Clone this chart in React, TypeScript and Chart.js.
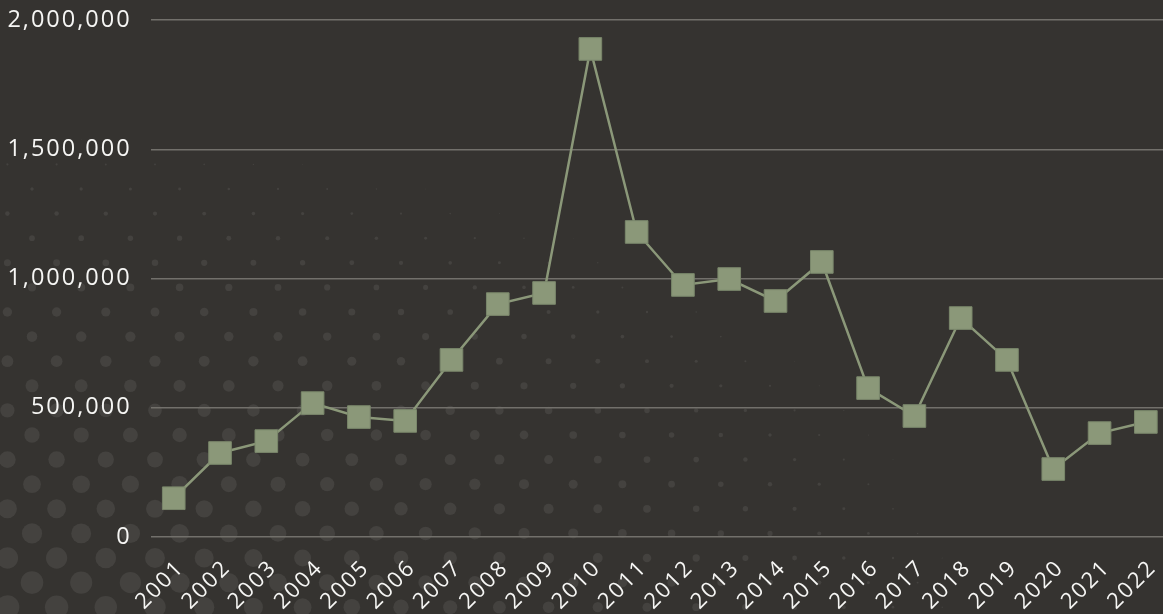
import React, { useEffect, useRef } from 'react';
import { Chart, registerables } from 'chart.js';

Chart.register(...registerables);

const years = ['2001', '2002', '2003', '2004', '2005', '2006', '2007', '2008', '2009', '2010', '2011', '2012', '2013', '2014', '2015', '2016', '2017', '2018', '2019', '2020', '2021', '2022'];
const values = [150000, 325000, 371000, 518000, 464000, 449000, 685000, 901000, 944000, 1888000, 1180000, 975000, 998000, 913000, 1064000, 576000, 468000, 847000, 685000, 263000, 402000, 445000];
const yTicks = [0, 500000, 1000000, 1500000, 2000000];

const BG = '#353330';
const SAGE = '#8b9879';
const TEXT = '#f6f6f4';
const GRID = '#72706b';
const FONT = "'Open Sans', 'Noto Sans', sans-serif";

const dotsPlugin = {
  id: 'dotsBackground',
  beforeUpdate(chart: any) {
    chart.ctx.letterSpacing = '2px';
  },
  beforeDraw(chart: any) {
    const ctx = chart.ctx;
    ctx.save();
    ctx.fillStyle = BG;
    ctx.fillRect(0, 0, chart.width, chart.height);
    ctx.fillStyle = 'rgba(255,255,255,0.075)';
    const dx = 49.2;
    const dy = 24.6;
    for (let row = -12; row < 30; row++) {
      const y = 189 + row * dy;
      if (y > chart.height + 20) break;
      const even = ((row % 2) + 2) % 2 === 0;
      const start = (even ? 32 : 7.4) - dx;
      for (let x = start; x < chart.width + dx; x += dx) {
        const d = Math.sqrt((x / 1000) ** 2 + ((650 - y) / 530) ** 2);
        const r = 13 * (1 - d);
        if (r > 0.4) {
          ctx.beginPath();
          ctx.arc(x, y, r, 0, Math.PI * 2);
          ctx.fill();
        }
      }
    }
    ctx.restore();
  },
};

export default function App() {
  const ref = useRef<HTMLCanvasElement | null>(null);

  useEffect(() => {
    if (!ref.current) return;
    const chart = new Chart(ref.current, {
      type: 'line',
      data: {
        labels: years,
        datasets: [
          {
            data: values,
            borderColor: SAGE,
            borderWidth: 2.5,
            backgroundColor: SAGE,
            pointStyle: 'rect',
            pointRadius: 16,
            pointHoverRadius: 16,
            pointBackgroundColor: SAGE,
            pointBorderColor: '#7a876b',
            pointBorderWidth: 1,
            tension: 0,
            clip: false,
          },
        ],
      },
      options: {
        responsive: false,
        animation: false,
        devicePixelRatio: 1,
        layout: { autoPadding: false, padding: { top: 20, left: 0, right: 0, bottom: 0 } },
        plugins: {
          legend: { display: false },
          tooltip: { enabled: false },
        },
        scales: {
          x: {
            type: 'category',
            offset: true,
            grid: { display: false, drawTicks: false },
            border: { display: false },
            ticks: {
              color: TEXT,
              font: { family: FONT, size: 22 },
              minRotation: 45,
              maxRotation: 45,
              autoSkip: false,
              padding: 18,
              labelOffset: 7,
            },
            afterFit: (s: any) => {
              s.height = 77;
              s.paddingLeft = 0;
              s.paddingRight = 0;
            },
          },
          y: {
            min: 0,
            max: 2000000,
            grid: { color: GRID, lineWidth: 1.5, drawTicks: false },
            border: { display: false },
            afterBuildTicks: (s: any) => {
              s.ticks = yTicks.map((v) => ({ value: v }));
            },
            ticks: {
              color: TEXT,
              font: { family: FONT, size: 23.5 },
              padding: 19,
              callback: (v: any) => Number(v).toLocaleString('en-US'),
            },
            afterFit: (s: any) => {
              s.width = 150.6;
              s.paddingTop = 0;
              s.paddingBottom = 0;
            },
          },
        },
      },
      plugins: [dotsPlugin],
    });
    return () => chart.destroy();
  }, []);

  return (
    <div
      style={{
        position: 'fixed',
        left: 0,
        top: 0,
        width: 1163,
        height: 614,
        overflow: 'hidden',
        background: BG,
      }}
    >
      <canvas ref={ref} width={1169} height={614} style={{ display: 'block', width: 1169, height: 614 }} />
    </div>
  );
}
